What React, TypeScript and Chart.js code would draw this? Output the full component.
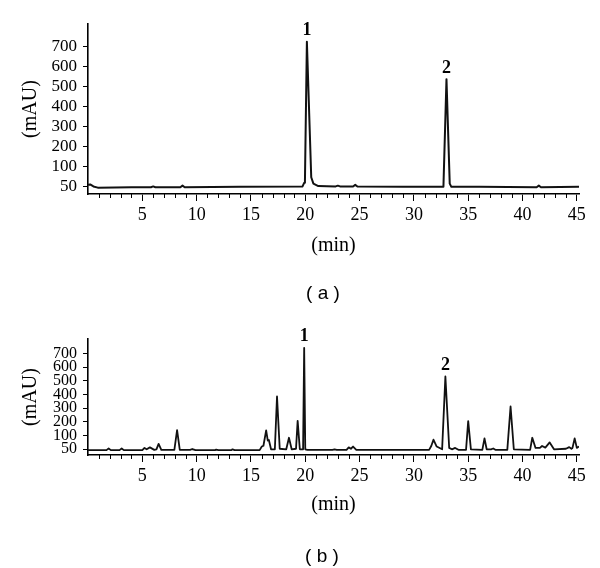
import React, { useEffect, useRef } from "react";
import { Chart, registerables } from "chart.js";

Chart.register(...registerables);

// ---------- data (retention time in min, absorbance in mAU) ----------
const timesA = [
  0, 0.2, 0.5, 0.9, 4,
  5.8, 6.0, 6.2,
  8.5, 8.7, 8.9,
  14, 19.75, 19.9, 19.97, 20.15, 20.55, 20.75, 21.2,
  22.8, 23.0, 23.2,
  24.4, 24.6, 24.8,
  29, 32.72, 33.0, 33.3, 33.45,
  36, 41.3, 41.5, 41.7, 45.2,
];
const signalA = [
  53, 54, 49, 46, 47,
  47, 49, 47,
  47, 51, 47,
  48, 49, 58, 62, 725, 72, 56, 50,
  49, 51, 49,
  49, 53, 49,
  48, 48, 537, 56, 48,
  48, 47, 51, 47, 48,
];

const timesB = [
  0, 1.7, 1.9, 2.1,
  2.9, 3.1, 3.3,
  5.0, 5.2, 5.4, 5.7, 6.1,
  6.3, 6.5, 6.75,
  7.95, 8.2, 8.45,
  9.4, 9.6, 9.9,
  11.7, 11.8, 12,
  13.2, 13.3, 13.5,
  15.8, 16.0, 16.15, 16.4, 16.55, 16.65, 16.85,
  17.2, 17.4, 17.65,
  18.25, 18.5, 18.75,
  19.15, 19.3, 19.5,
  19.8, 19.9, 20.0,
  20.2, 22.5, 22.7, 22.9,
  23.8, 24.0, 24.2, 24.4, 24.7,
  31.4, 31.6, 31.8, 32.1,
  32.6, 32.9, 33.25,
  33.5, 33.8, 34.1,
  34.8, 35.0, 35.25,
  36.3, 36.5, 36.7,
  37.1, 37.3, 37.5,
  38.6, 38.9, 39.2,
  40.7, 40.9, 41.2,
  41.6, 41.8, 42.1, 42.5, 42.9,
  44.0, 44.3, 44.5, 44.6, 44.8, 45.0, 45.2,
];
const signalB = [
  47, 47, 53, 47,
  47, 53, 47,
  47, 55, 50, 57, 48,
  50, 70, 48,
  48, 140, 48,
  48, 51, 47,
  47, 49, 47,
  47, 50, 47,
  47, 60, 63, 138, 82, 84, 50,
  50, 385, 52,
  50, 92, 50,
  52, 207, 50,
  50, 740, 50,
  48, 48, 50, 48,
  48, 57, 52, 60, 48,
  48, 62, 85, 60,
  50, 531, 55,
  50, 55, 48,
  48, 205, 50,
  48, 90, 50,
  50, 53, 48,
  48, 312, 50,
  48, 92, 55,
  55, 62, 56, 75, 50,
  52, 58, 52, 55, 90, 55, 60,
];

const yTickValues = [50, 100, 200, 300, 400, 500, 600, 700];
const yTickLabels = ["50", "100", "200", "300", "400", "500", "600", "700"];
const xTickValues = [5, 10, 15, 20, 25, 30, 35, 40, 45];
const xTickLabels = ["5", "10", "15", "20", "25", "30", "35", "40", "45"];
const peakNames = ["1", "2"];
const peakTimesA = [20.15, 33.0];
const peakTimesB = [19.9, 32.9];

const X_MAX = 45.2;
const SERIF = "'Liberation Serif', 'Times New Roman', serif";

// The printed y axis spaces 50,100,200,...,700 evenly: map mAU onto that axis.
function toAxis(v: number): number {
  return v <= 100 ? (v - 50) / 50 : 1 + (v - 100) / 100;
}

type Cfg = {
  times: number[];
  values: number[];
  peaks: number[];
  padTop: number;
  xHeight: number;
  titlePad: number;
  yMin: number;
  yMax: number;
  yFont: number;
  lineWidth: number;
};

function makeChart(canvas: HTMLCanvasElement, c: Cfg) {
  const decor = {
    id: "decor",
    afterDraw(chart: any) {
      const ctx = chart.ctx;
      const x = chart.scales.x;
      const y = chart.scales.y;
      ctx.save();
      ctx.strokeStyle = "#000";
      ctx.lineWidth = 1;
      for (let m = 1; m < X_MAX; m++) {
        if (m % 5 === 0) continue;
        const px = Math.round(x.getPixelForValue(m)) + 0.5;
        ctx.beginPath();
        ctx.moveTo(px, y.bottom);
        ctx.lineTo(px, y.bottom + 4);
        ctx.stroke();
      }
      ctx.font = `bold 18px ${SERIF}`;
      ctx.textAlign = "center";
      ctx.textBaseline = "middle";
      ctx.fillStyle = "#000";
      c.peaks.forEach((t, i) => {
        const idx = c.times.indexOf(t);
        const v = c.values[idx];
        ctx.fillText(peakNames[i], x.getPixelForValue(t), y.getPixelForValue(toAxis(v)) - 11);
      });
      ctx.restore();
    },
  };

  return new Chart(canvas, {
    type: "line",
    data: {
      datasets: [
        {
          data: c.times.map((t, i) => ({ x: t, y: toAxis(c.values[i]) })),
          borderColor: "#111",
          borderWidth: c.lineWidth,
          borderJoinStyle: "round",
          pointRadius: 0,
          tension: 0,
          fill: false,
        },
      ],
    },
    options: {
      animation: false,
      responsive: false,
      devicePixelRatio: 1,
      layout: { padding: { top: c.padTop, right: 21, left: 0, bottom: 0 } },
      plugins: { legend: { display: false }, tooltip: { enabled: false } },
      scales: {
        x: {
          type: "linear",
          min: 0,
          max: X_MAX,
          afterBuildTicks: (s: any) => {
            s.ticks = xTickValues.map((v) => ({ value: v }));
          },
          afterFit: (s: any) => {
            s.height = c.xHeight;
          },
          ticks: {
            autoSkip: false,
            maxRotation: 0,
            padding: 3,
            color: "#000",
            font: { family: SERIF, size: 18 },
            callback: (_v: any, i: number) => xTickLabels[i],
          },
          grid: { drawOnChartArea: false, tickLength: 7, color: "#000", lineWidth: 1 },
          border: { color: "#000", width: 1.6 },
          title: {
            display: true,
            text: "(min)",
            color: "#000",
            font: { family: SERIF, size: 20 },
            padding: { top: 0, bottom: c.titlePad },
          },
        },
        y: {
          type: "linear",
          min: c.yMin,
          max: c.yMax,
          afterBuildTicks: (s: any) => {
            s.ticks = yTickValues.map((v) => ({ value: toAxis(v) }));
          },
          afterFit: (s: any) => {
            s.width = 88;
          },
          ticks: {
            autoSkip: false,
            padding: 6,
            color: "#000",
            font: { family: SERIF, size: c.yFont },
            callback: (_v: any, i: number) => yTickLabels[i],
          },
          grid: { drawOnChartArea: false, tickLength: 5, color: "#000", lineWidth: 1 },
          border: { color: "#000", width: 1.6 },
          title: {
            display: true,
            text: "(mAU)",
            color: "#000",
            font: { family: SERIF, size: 20 },
            padding: { top: 19, bottom: 0 },
          },
        },
      },
    },
    plugins: [decor],
  } as any);
}

export default function App() {
  const refA = useRef<HTMLCanvasElement>(null);
  const refB = useRef<HTMLCanvasElement>(null);

  useEffect(() => {
    const a = makeChart(refA.current!, {
      times: timesA,
      values: signalA,
      peaks: peakTimesA,
      padTop: 24,
      xHeight: 68,
      titlePad: 4,
      yMin: -0.4,
      yMax: 8.14,
      yFont: 17,
      lineWidth: 2,
    });
    const b = makeChart(refB.current!, {
      times: timesB,
      values: signalB,
      peaks: peakTimesB,
      padTop: 39,
      xHeight: 75,
      titlePad: 13,
      yMin: -0.416,
      yMax: 8.045,
      yFont: 16,
      lineWidth: 1.8,
    });
    return () => {
      a.destroy();
      b.destroy();
    };
  }, []);

  const capStyle: React.CSSProperties = {
    position: "absolute",
    transform: "translate(-50%, -50%)",
    fontFamily: "'Liberation Sans', Arial, sans-serif",
    fontSize: 19,
    color: "#000",
    whiteSpace: "pre",
  };

  return (
    <div style={{ position: "absolute", left: 0, top: 0, width: 600, height: 568, background: "#fff" }}>
      <canvas ref={refA} width={600} height={262} style={{ position: "absolute", left: 0, top: 0, display: "block" }} />
      <canvas ref={refB} width={600} height={230} style={{ position: "absolute", left: 0, top: 300, display: "block" }} />
      <div style={{ ...capStyle, left: 323, top: 293 }}>( a )</div>
      <div style={{ ...capStyle, left: 322, top: 556 }}>( b )</div>
    </div>
  );
}
